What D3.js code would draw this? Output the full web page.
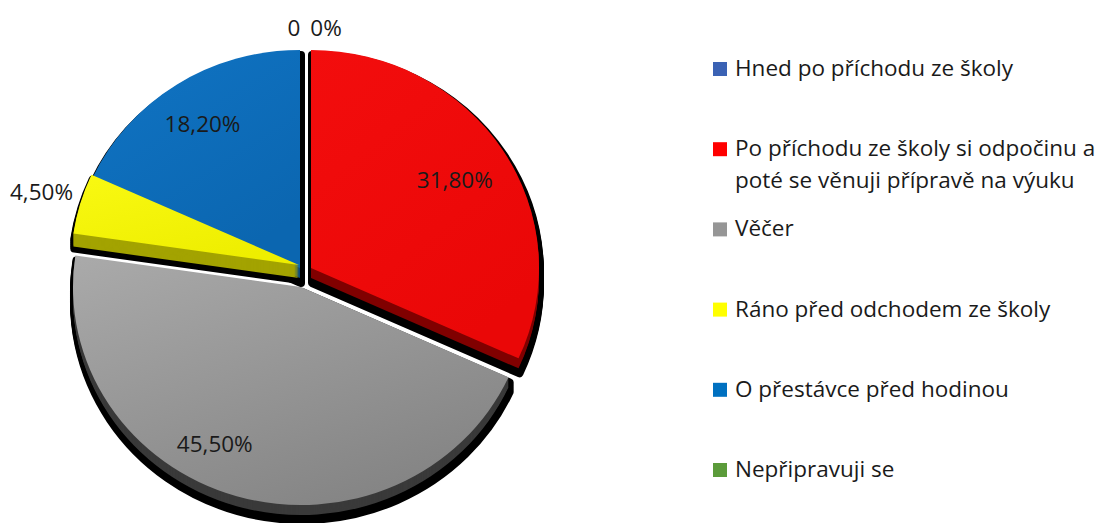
<!DOCTYPE html>
<html>
<head>
<meta charset="utf-8">
<script src="https://cdn.jsdelivr.net/npm/d3@7"></script>
<style>
  body { margin: 0; background: #fff; }
  svg { display: block; font-family: "Open Sans", sans-serif; }
</style>
</head>
<body>
<svg id="chart" width="1108" height="523"></svg>
<script>
// data
const categories = [
  "Hned po příchodu ze školy",
  "Po příchodu ze školy si odpočinu a poté se věnuji přípravě na výuku",
  "Věčer",
  "Ráno před odchodem ze školy",
  "O přestávce před hodinou",
  "Nepřipravuji se"
];
const shares = [0, 31.8, 45.5, 4.5, 18.2, 0];
const valueLabels = ["0%", "31,80%", "45,50%", "4,50%", "18,20%", "0"];

// colours
const topColors = [["#4a72c0", "#2f5597"], ["#f30d0d", "#ea0707"], ["#aaaaaa", "#858585"],
                   ["#f9f912", "#eeee00"], ["#1074c4", "#0b66b0"], ["#6aa84f", "#4e8a30"]];
const sideColors = ["#24407a", "#800000", "#3a3a3a", "#a3a300", "#0a4a80", "#38612a"];
const legendColors = ["#3b62b4", "#ff0000", "#969696", "#ffff00", "#0070c0", "#5b9b3a"];

// layout
const cx = 300, cy = 268, rx = 228, ry = 218, depth = 10;
const explode = [[0, 0], [11, 0], [1, 19], [-1, -3], [0, 0], [0, 0]];
const labelR = [1.1, 0.75, 0.75, 1.2, 0.79, 1.1];
const labelNudge = [[26, -1], [0, 0], [-38, 0], [5, 0], [0, 0], [-6, -1]];
const drawOrder = [4, 3, 1, 2];

const svg = d3.select("#chart");
const defs = svg.append("defs");

topColors.forEach(function(c, i) {
  const g = defs.append("linearGradient").attr("id", "g" + i)
    .attr("x1", 0).attr("y1", 0).attr("x2", 0.6).attr("y2", 1);
  g.append("stop").attr("offset", "0%").attr("stop-color", c[0]);
  g.append("stop").attr("offset", "100%").attr("stop-color", c[1]);
});

const pie = d3.pie().sort(null).value(function(d) { return d; });
const arcs = pie(shares);
const arc = d3.arc().innerRadius(0).outerRadius(rx);
const k = ry / rx;

function sliceGroup(parent, i, dx, dy) {
  return parent.append("g")
    .attr("transform", "translate(" + (cx + explode[i][0] + dx) + "," + (cy + explode[i][1] + dy) + ") scale(1," + k + ")");
}

// shadows
const shadowLayer = svg.append("g");
drawOrder.forEach(function(i) {
  for (let o = 0; o <= depth; o += 2) {
    sliceGroup(shadowLayer, i, 1, 5 + o).append("path")
      .attr("d", arc(arcs[i]))
      .attr("fill", "#000")
      .attr("stroke", "#000")
      .attr("stroke-width", 8)
      .attr("stroke-linejoin", "round")
      .attr("vector-effect", "non-scaling-stroke");
  }
});

// slices: side then top
const pieLayer = svg.append("g");
drawOrder.forEach(function(i) {
  const d = i === 3 ? depth + 3 : depth;
  for (let o = d; o >= 1; o--) {
    sliceGroup(pieLayer, i, 0, o).append("path")
      .attr("d", arc(arcs[i]))
      .attr("fill", sideColors[i]);
  }
  sliceGroup(pieLayer, i, 0, 0).append("path")
    .attr("d", arc(arcs[i]))
    .attr("fill", "url(#g" + i + ")");
});

// data labels
arcs.forEach(function(a, i) {
  const mid = (a.startAngle + a.endAngle) / 2;
  const x = cx + explode[i][0] + Math.sin(mid) * rx * labelR[i] + labelNudge[i][0];
  const y = cy + explode[i][1] - Math.cos(mid) * ry * labelR[i] + labelNudge[i][1];
  svg.append("text")
    .attr("x", x).attr("y", y)
    .attr("text-anchor", "middle")
    .attr("dominant-baseline", "central")
    .attr("font-size", 22.5)
    .attr("fill", "#1a1a1a")
    .text(valueLabels[i]);
});

// legend
const legend = svg.append("g").attr("transform", "translate(713,0)");
const legendY = d3.scalePoint().domain(d3.range(categories.length)).range([69, 470]);
const maxW = 372;

categories.forEach(function(name, i) {
  const y = legendY(i);
  legend.append("rect")
    .attr("x", 0).attr("y", y - 7)
    .attr("width", 14).attr("height", 14)
    .attr("fill", legendColors[i]);
  const t = legend.append("text")
    .attr("x", 22).attr("y", y + 7)
    .attr("font-size", 22.5)
    .attr("fill", "#1a1a1a");
  // word wrap
  const words = name.split(" ");
  let line = [];
  let tspan = t.append("tspan").attr("x", 22).attr("y", y + 7);
  let lineNo = 0;
  words.forEach(function(w) {
    line.push(w);
    tspan.text(line.join(" "));
    if (tspan.node().getComputedTextLength() > maxW && line.length > 1) {
      line.pop();
      tspan.text(line.join(" "));
      line = [w];
      lineNo++;
      tspan = t.append("tspan").attr("x", 22).attr("y", y + 7 + lineNo * 32).text(w);
    }
  });
});
</script>
</body>
</html>
